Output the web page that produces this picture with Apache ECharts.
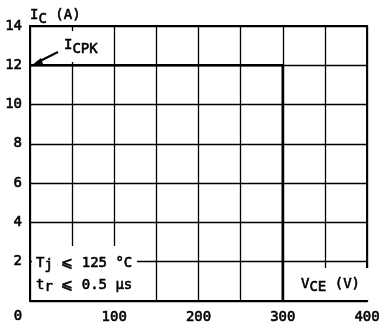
<!DOCTYPE html>
<html><head><meta charset="utf-8">
<script src="https://cdn.jsdelivr.net/npm/echarts@6/dist/echarts.min.js"></script>
<style>html,body{margin:0;padding:0;background:#fff}#c{width:383px;height:328px}</style>
</head><body><div id="c"></div>
<script>
// Data
const vce = [0, 300, 300];
const ic = [12, 12, 0];
const xTicks = [0, 100, 200, 300, 400];
const yTicks = [2, 4, 6, 8, 10, 12, 14];

const FONT = 'DejaVu Sans Mono';
const chart = echarts.init(document.getElementById('c'), null, {renderer: 'canvas'});
const L = 30, T = 26, R = 370, B = 301;

const thick = {textBorderColor: '#000', textBorderWidth: 0.6};
const gThick = {stroke: '#000', lineWidth: 0.6};
const m = Object.assign({fontFamily: FONT, fontSize: 14}, gThick);
const sub = (p) => Object.assign({fontFamily: FONT, fontSize: 14, padding: [p, 0, 0, 0]}, gThick);

chart.setOption({
  animation: false,
  grid: {left: L, top: T, width: R - L, height: B - T, show: true, borderColor: '#000', borderWidth: 2, backgroundColor: 'transparent'},
  xAxis: {
    type: 'value', min: 0, max: 400, interval: 50,
    axisLine: {show: false}, axisTick: {show: false},
    splitLine: {show: true, lineStyle: {color: '#000', width: 1.3}},
    axisLabel: Object.assign({fontFamily: FONT, fontSize: 14, color: '#000', margin: 9,
      formatter: v => (v !== 0 && xTicks.includes(v)) ? String(v) : ''}, thick)
  },
  yAxis: {
    type: 'value', min: 0, max: 14, interval: 2,
    axisLine: {show: false}, axisTick: {show: false},
    splitLine: {show: true, lineStyle: {color: '#000', width: 1.3}},
    axisLabel: Object.assign({fontFamily: FONT, fontSize: 14, color: '#000', margin: 8,
      formatter: v => yTicks.includes(v) ? String(v) : ''}, thick)
  },
  series: [{
    type: 'line', data: vce.map((x, i) => [x, ic[i]]), symbol: 'none', z: 10,
    lineStyle: {color: '#000', width: 2.6}
  }],
  graphic: [
    {type: 'rect', shape: {x: 32, y: 246, width: 105, height: 54}, style: {fill: '#fff'}, z: 5},
    {type: 'rect', shape: {x: 287, y: 268, width: 82, height: 32}, style: {fill: '#fff'}, z: 5},
    {type: 'rect', shape: {x: 60, y: 31, width: 52, height: 31}, style: {fill: '#fff'}, z: 5},
    {type: 'text', x: 30, y: 4, z: 20, style: {text: '{m|I}{s|C}{m| (A)}', rich: {m: m, s: sub(8)}, fill: '#000'}},
    {type: 'text', x: 18, y: 316, z: 20, style: Object.assign({text: '0', align: 'center', verticalAlign: 'middle', fontFamily: FONT, fontSize: 14, fill: '#000'}, gThick)},
    {type: 'text', x: 64, y: 34, z: 20, style: {text: '{m|I}{s|CPK}', rich: {m: m, s: sub(8)}, fill: '#000'}},
    {type: 'line', z: 20, shape: {x1: 58, y1: 52, x2: 36, y2: 63}, style: {stroke: '#000', lineWidth: 2}},
    {type: 'polygon', z: 20, shape: {points: [[31, 66], [41, 58], [43, 64]]}, style: {fill: '#000'}},
    {type: 'text', x: 36, y: 254, z: 20, style: {text: '{m|T}{s|j}{m| ⩽ 125 °C}', rich: {m: m, s: sub(4)}, fill: '#000'}},
    {type: 'text', x: 36, y: 276, z: 20, style: {text: '{m|t}{s|r}{m| ⩽ 0.5 µs}', rich: {m: m, s: sub(4)}, fill: '#000'}},
    {type: 'text', x: 301, y: 274, z: 20, style: {text: '{m|V}{s|CE}{m| (V)}', rich: {m: m, s: sub(6)}, fill: '#000'}}
  ]
});
</script></body></html>
